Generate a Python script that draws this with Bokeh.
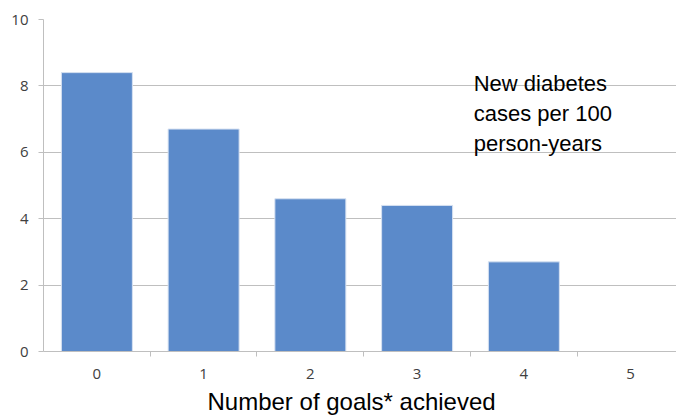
from bokeh.plotting import figure
from bokeh.models import FixedTicker, Range1d, Label, Title, ColumnDataSource
from bokeh.embed import file_html
from bokeh.resources import INLINE

goals = [0, 1, 2, 3, 4, 5]
cases = [8.4, 6.7, 4.6, 4.4, 2.7, 0.0]
y_ticks = [0, 2, 4, 6, 8, 10]
x_title = "Number of goals* achieved"
note = "New diabetes\ncases per 100\nperson-years"

src = ColumnDataSource(dict(x=goals, top=cases))

p = figure(width=676, height=418, output_backend="svg", toolbar_location=None,
           x_range=Range1d(-0.5, 5.43), y_range=Range1d(0, 10),
           min_border_left=43, min_border_right=0, min_border_top=19, min_border_bottom=67)
p.outline_line_color = None
p.background_fill_color = "white"

p.vbar(x="x", top="top", width=0.665, source=src, fill_color="#5B8ACA",
       line_color="#D6E1F1", line_width=1)

# axes
p.yaxis.ticker = FixedTicker(ticks=y_ticks)
p.yaxis.axis_line_color = "#BFBFBF"
p.yaxis.major_tick_line_color = "#BFBFBF"
p.yaxis.major_tick_out = 5
p.yaxis.major_tick_in = 0
p.yaxis.minor_tick_line_color = None
p.yaxis.major_label_text_font = "Open Sans"
p.yaxis.major_label_text_font_size = "15px"
p.yaxis.major_label_text_color = "#404040"
p.yaxis.major_label_standoff = 10

p.xaxis.ticker = FixedTicker(ticks=goals, minor_ticks=[g + 0.5 for g in goals[:-1]])
p.xaxis.axis_line_color = "#BFBFBF"
p.xaxis.major_tick_line_color = None
p.xaxis.major_tick_out = 0
p.xaxis.major_tick_in = 0
p.xaxis.minor_tick_line_color = "#BFBFBF"
p.xaxis.minor_tick_out = 5
p.xaxis.minor_tick_in = 0
p.xaxis.major_label_text_font = "Open Sans"
p.xaxis.major_label_text_font_size = "15px"
p.xaxis.major_label_text_color = "#404040"
p.xaxis.major_label_standoff = 12

p.xgrid.grid_line_color = None
p.ygrid.ticker = FixedTicker(ticks=y_ticks)
p.ygrid.grid_line_color = "#BFBFBF"
p.ygrid.level = "underlay"

p.add_layout(Title(text=x_title, align="left", offset=164,
                   text_font="Liberation Sans", text_font_size="24px",
                   text_color="#000000", text_font_style="normal",
                   standoff=8), "below")

p.add_layout(Label(x=3.53, y=8.45, text=note, text_font="Liberation Sans",
                   text_font_size="22px", text_color="#000000",
                   text_baseline="top", text_line_height=1.2))

open("out.html", "w").write(file_html(p, INLINE))
